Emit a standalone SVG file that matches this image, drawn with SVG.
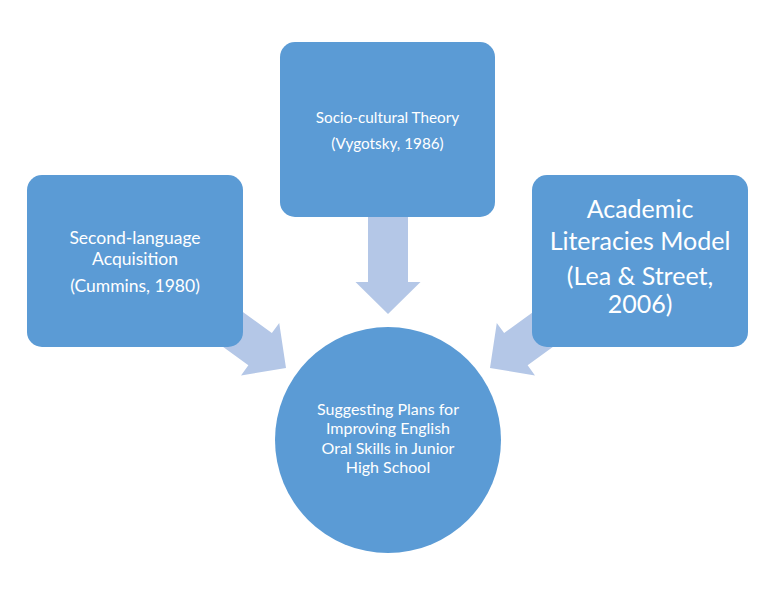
<svg xmlns="http://www.w3.org/2000/svg" width="768" height="594" viewBox="0 0 768 594">
<style>
.box{fill:#5B9BD5;}
.arr{fill:#B4C7E7;}
.t{fill:#FFFFFF;font-family:Lato,"Open Sans","Liberation Sans",sans-serif;text-anchor:middle;}
.s15{font-size:15.3px;}
.s16{font-size:16px;}
.s17{font-size:17.5px;}
.s24{font-size:25px;}
</style>
<defs>
<path id="arrowShape" d="M0,0 L-32,-32.5 L-32,-20 L-130,-20 L-130,20 L-32,20 L-32,32.5 Z"/>
</defs>
<rect width="768" height="594" fill="#FFFFFF"/>
<g id="connectors">
<use href="#arrowShape" class="arr" transform="translate(388,314) rotate(90)"/>
<use href="#arrowShape" class="arr" transform="translate(286,368) rotate(36)"/>
<use href="#arrowShape" class="arr" transform="translate(490,368) rotate(144)"/>
</g>
<g id="node-sla">
<rect class="box" x="27" y="175" width="216" height="172" rx="15"/>
<text class="t s17" x="135" y="244">Second-language</text>
<text class="t s17" x="135" y="265">Acquisition</text>
<text class="t s17" x="135" y="292">(Cummins, 1980)</text>
</g>
<g id="node-sct">
<rect class="box" x="280" y="42" width="215" height="175" rx="15"/>
<text class="t s15" x="387.5" y="123">Socio-cultural Theory</text>
<text class="t s15" x="387.5" y="149">(Vygotsky, 1986)</text>
</g>
<g id="node-alm">
<rect class="box" x="532" y="175" width="216" height="172" rx="15"/>
<text class="t s24" x="640" y="218">Academic</text>
<text class="t s24" x="640" y="250">Literacies Model</text>
<text class="t s24" x="640" y="285">(Lea &amp; Street,</text>
<text class="t s24" x="640" y="313">2006)</text>
</g>
<g id="node-center">
<circle class="box" cx="388" cy="440" r="113"/>
<text class="t s16" x="388" y="415">Suggesting Plans for</text>
<text class="t s16" x="388" y="434">Improving English</text>
<text class="t s16" x="388" y="454">Oral Skills in Junior</text>
<text class="t s16" x="388" y="473">High School</text>
</g>
</svg>
